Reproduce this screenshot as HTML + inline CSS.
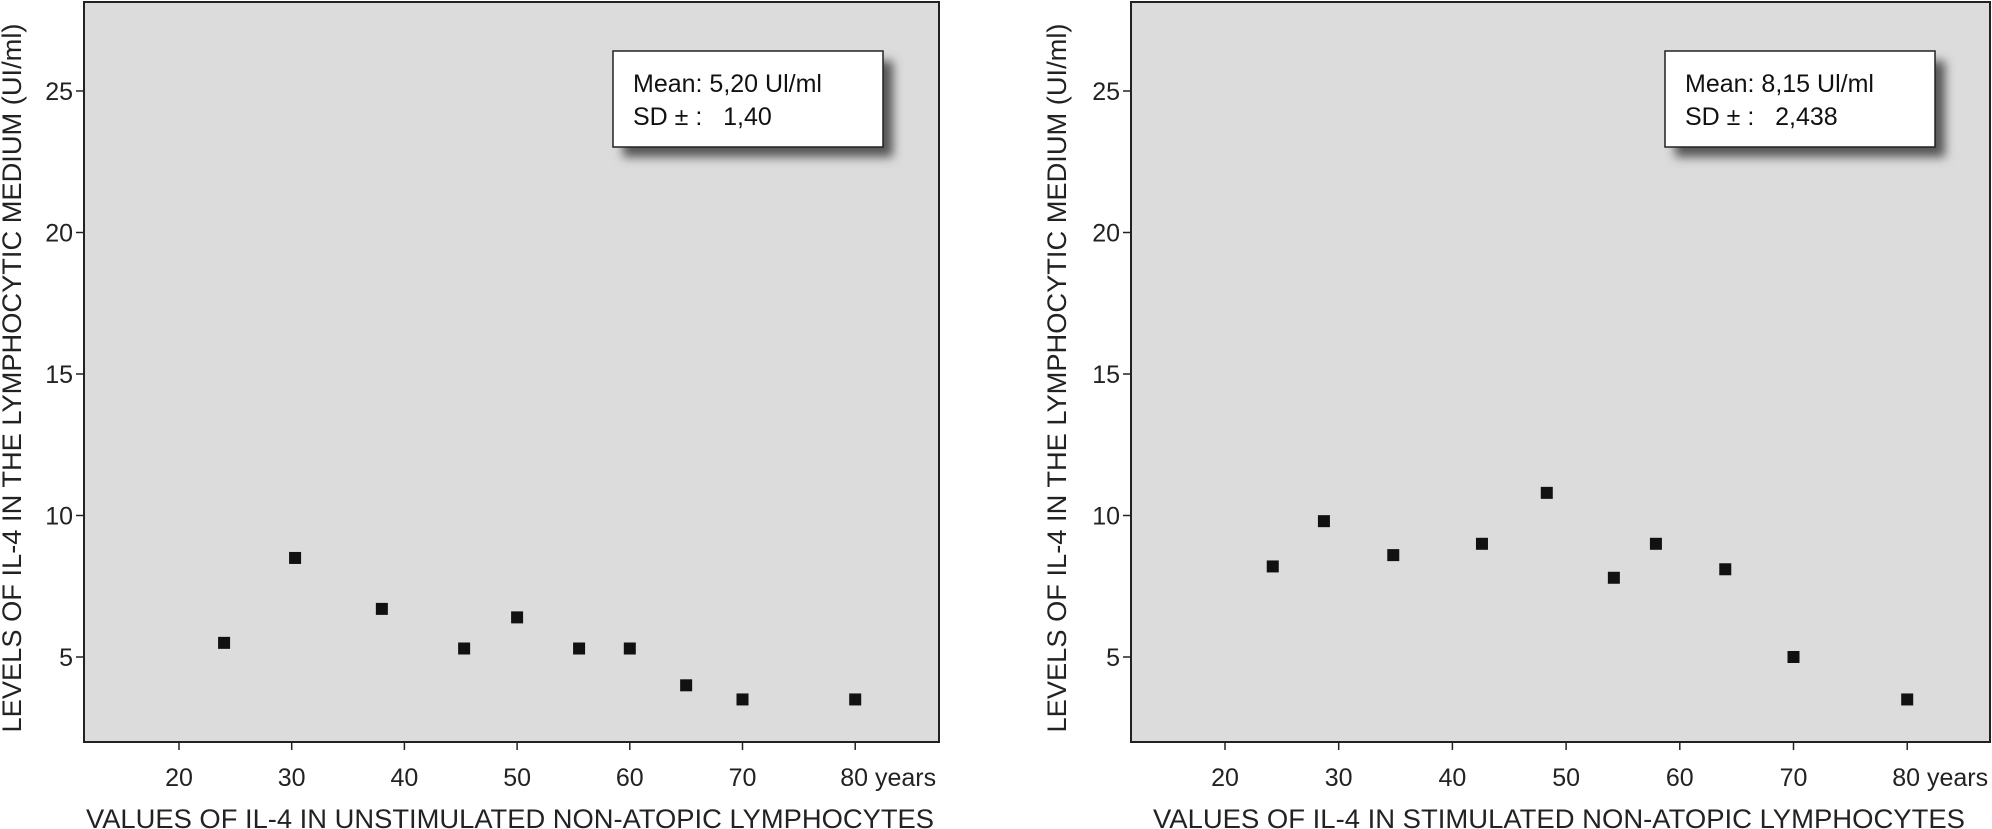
<!DOCTYPE html>
<html><head><meta charset="utf-8"><style>
html,body{margin:0;padding:0;background:#fff;}
svg{display:block;font-family:"Liberation Sans",sans-serif;}
</style></head><body>
<svg id="chart" width="1992" height="829" xmlns="http://www.w3.org/2000/svg">
<defs><filter id="sh" x="-20%" y="-20%" width="150%" height="160%"><feGaussianBlur stdDeviation="5"/></filter></defs>
</svg>
<script>
const ages1 = [24, 30.3, 38, 45.3, 50, 55.5, 60, 65, 70, 80];
const vals1 = [5.5, 8.5, 6.7, 5.3, 6.4, 5.3, 5.3, 4.0, 3.5, 3.5];
const ages2 = [24.2, 28.7, 34.8, 42.6, 48.3, 54.2, 57.9, 64, 70, 80];
const vals2 = [8.2, 9.8, 8.6, 9.0, 10.8, 7.8, 9.0, 8.1, 5.0, 3.5];
const xTicks = [20, 30, 40, 50, 60, 70, 80];
const xTickLabels = ["20", "30", "40", "50", "60", "70", "80 years"];
const yTicks = [5, 10, 15, 20, 25];
const yTickLabels = ["5", "10", "15", "20", "25"];
const legend1 = ["Mean: 5,20 Ul/ml", "SD \u00b1 :   1,40"];
const legend2 = ["Mean: 8,15 Ul/ml", "SD \u00b1 :   2,438"];
const xTitle1 = "VALUES OF IL-4 IN UNSTIMULATED NON-ATOPIC LYMPHOCYTES";
const xTitle2 = "VALUES OF IL-4 IN STIMULATED NON-ATOPIC LYMPHOCYTES";
const yTitle = "LEVELS OF IL-4 IN THE LYMPHOCYTIC MEDIUM (UI/ml)";

const svg = document.getElementById('chart');
const NS = 'http://www.w3.org/2000/svg';
function mk(tag, attrs, parent) {
  const e = document.createElementNS(NS, tag);
  for (const k in attrs) e.setAttribute(k, attrs[k]);
  (parent || svg).appendChild(e);
  return e;
}

function panel(cfg) {
  const g = mk('g', {});
  
  
  const x = a => cfg.x20 + (a - 20) * cfg.xu;
  const y = v => 657 - (v - 5) * 28.3;
  const frame = mk('rect', {x: cfg.left, y: 2, width: cfg.right - cfg.left, height: 740, fill: '#dcdcdc', stroke: '#222', 'stroke-width': 2}, g);
  
  
  yTicks.forEach((t, i) => {
    const tk = mk('line', {x1: cfg.left - 8, x2: cfg.left, y1: y(t), y2: y(t), stroke: '#222', 'stroke-width': 1.5}, g);
    
    
    const lb = mk('text', {x: cfg.left - 11, y: y(t) + 9, 'text-anchor': 'end', 'font-size': 25, fill: '#222'}, g);
    lb.textContent = yTickLabels[i];
    
    
  });
  xTicks.forEach((t, i) => {
    const tk = mk('line', {x1: x(t), x2: x(t), y1: 742, y2: 750, stroke: '#222', 'stroke-width': 1.5}, g);
    
    
    const last = i === xTicks.length - 1;
    const lb = mk('text', {x: last ? x(t) - 15 : x(t), y: 786, 'text-anchor': last ? 'start' : 'middle', 'font-size': 25, fill: '#222'}, g);
    lb.textContent = xTickLabels[i];
    
    
  });
  cfg.ages.forEach((a, i) => {
    const m = mk('rect', {x: x(a) - 6, y: y(cfg.vals[i]) - 6, width: 12, height: 12, fill: '#111'}, g);
    
    
  });
  const xt = mk('text', {x: cfg.xtx, y: 828, 'font-size': 27, fill: '#222', textLength: cfg.xtw, lengthAdjust: 'spacingAndGlyphs'}, g);
  xt.textContent = cfg.xTitle;
  
  
  const yt = mk('text', {x: 0, y: 0, 'font-size': 27, fill: '#222', 'text-anchor': 'middle', textLength: 709, lengthAdjust: 'spacingAndGlyphs', transform: `translate(${cfg.ytx},378) rotate(-90)`}, g);
  yt.textContent = yTitle;
  
  
  const lg = mk('g', {}, g);
  
  
  mk('rect', {x: cfg.lx + 10, y: 61, width: cfg.lw, height: 96, fill: '#555', filter: 'url(#sh)'}, lg);
  mk('rect', {x: cfg.lx, y: 51, width: cfg.lw, height: 96, fill: '#fff', stroke: '#222', 'stroke-width': 1.5}, lg);
  cfg.legend.forEach((s, i) => {
    const t = mk('text', {x: cfg.lx + 20, y: 92 + i * 33, 'font-size': 25, fill: '#111', 'xml:space': 'preserve'}, lg);
    t.setAttribute('style', 'white-space:pre');
    t.textContent = s;
    
    
  });
}

panel({name: 'unstimulated-panel', left: 84, right: 939, x20: 179, xu: 11.27, ages: ages1, vals: vals1,
  xTitle: xTitle1, xtx: 86, xtw: 848, ytx: 21, lx: 613, lw: 270, legend: legend1});
panel({name: 'stimulated-panel', left: 1131, right: 1990, x20: 1225, xu: 11.37, ages: ages2, vals: vals2,
  xTitle: xTitle2, xtx: 1153, xtw: 812, ytx: 1066, lx: 1665, lw: 270, legend: legend2});
</script>
</body></html>
